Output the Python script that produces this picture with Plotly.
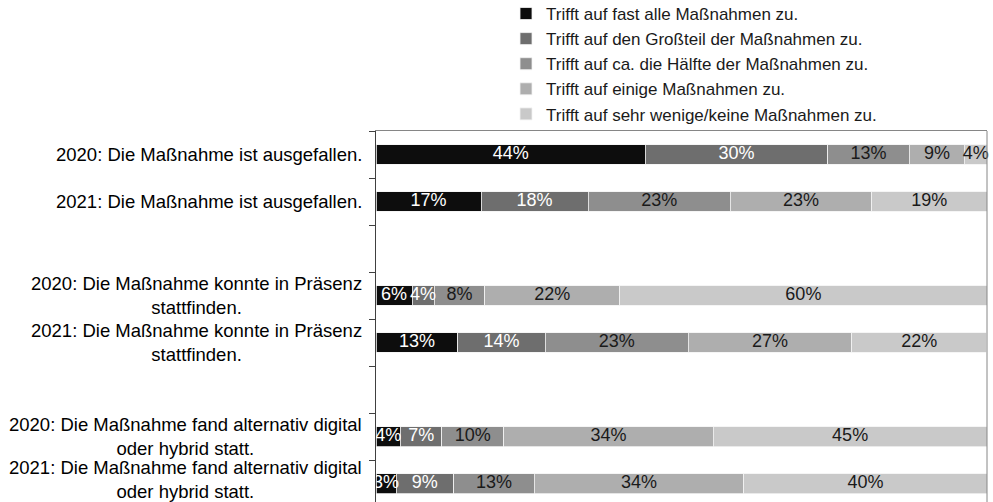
import numpy as np
import plotly.graph_objects as go

categories = [
    "2020: Die Maßnahme ist ausgefallen.",
    "2021: Die Maßnahme ist ausgefallen.",
    " ",
    "2020: Die Maßnahme konnte in Präsenz<br>stattfinden.",
    "2021: Die Maßnahme konnte in Präsenz<br>stattfinden.",
    "  ",
    "2020: Die Maßnahme fand alternativ digital<br>oder hybrid statt.",
    "2021: Die Maßnahme fand alternativ digital<br>oder hybrid statt.",
]
bar_rows = [categories[i] for i in (0, 1, 3, 4, 6, 7)]

series_names = [
    "Trifft auf fast alle Maßnahmen zu.",
    "Trifft auf den Großteil der Maßnahmen zu.",
    "Trifft auf ca. die Hälfte der Maßnahmen zu.",
    "Trifft auf einige Maßnahmen zu.",
    "Trifft auf sehr wenige/keine Maßnahmen zu.",
]
# values per series (percent), one per bar row
s_fast_alle = [44.1, 17.2, 5.9, 13.4, 4.0, 3.3]
s_grossteil = [29.8, 17.5, 3.6, 14.3, 6.8, 9.4]
s_haelfte = [13.4, 23.3, 8.3, 23.4, 10.1, 13.2]
s_einige = [9.0, 23.1, 22.1, 26.8, 34.3, 34.3]
s_wenige = [3.7, 18.9, 60.1, 22.0, 44.8, 39.8]
series_values = [s_fast_alle, s_grossteil, s_haelfte, s_einige, s_wenige]

colors = ["#0d0d0d", "#6e6e6e", "#8e8e8e", "#aeaeae", "#c9c9c9"]
text_colors = ["#ffffff", "#ffffff", "#1a1a1a", "#1a1a1a", "#1a1a1a"]

FONT = "Liberation Sans, Arial, sans-serif"

fig = go.Figure()
for name, vals, col in zip(series_names, series_values, colors):
    fig.add_trace(go.Bar(
        y=bar_rows, x=vals, name=name, orientation="h",
        marker=dict(color=col, line=dict(color="#f2f2f2", width=0.8)),
        hoverinfo="skip",
    ))

# data labels, centred on each segment
start = np.zeros(len(bar_rows))
for vals, tcol in zip(series_values, text_colors):
    v = np.array(vals)
    mids = start + v / 2
    fig.add_trace(go.Scatter(
        x=mids, y=bar_rows, mode="text",
        text=[f"{round(x)}%" for x in v], textposition="middle center",
        textfont=dict(family=FONT, size=18, color=tcol),
        showlegend=False, hoverinfo="skip", cliponaxis=False,
    ))
    start = start + v

for i, cat in enumerate(bar_rows):
    fig.add_annotation(
        x=0, xref="paper", xshift=-12, xanchor="right",
        y=cat, yref="y", yanchor="middle", yshift=4 if i == len(bar_rows) - 1 else 0,
        text=cat, showarrow=False, align="center",
        font=dict(family=FONT, size=18.5, color="#000000"),
    )

fig.add_shape(type="line", xref="paper", yref="paper", x0=1, x1=1, y0=0, y1=1,
              line=dict(color="#868686", width=1))

fig.update_layout(
    width=993, height=502, autosize=False,
    margin=dict(l=376, r=6, t=131, b=0, autoexpand=False),
    paper_bgcolor="white", plot_bgcolor="white",
    barmode="stack", bargap=0.58,
    font=dict(family=FONT, size=18, color="#000000"),
    showlegend=True,
    legend=dict(
        x=0.2128, xanchor="left", y=1.364, yanchor="top",
        traceorder="normal", font=dict(family=FONT, size=17, color="#1a1a1a"),
        bgcolor="rgba(0,0,0,0)", tracegroupgap=0,
    ),
    xaxis=dict(range=[0, 100], side="top", showline=True, linecolor="#868686", linewidth=1,
               showgrid=False, zeroline=False, showticklabels=False, ticks=""),
    yaxis=dict(type="category", categoryorder="array", categoryarray=categories,
               range=[7.39, -0.5], autorange=False,
               showline=True, linecolor="#404040", linewidth=1,
               ticks="outside", tickson="boundaries", ticklen=6, tickcolor="#404040",
               showticklabels=False, showgrid=False, zeroline=False),
)

fig.write_html(
    "out.html",
    config={"displayModeBar": False},
    post_script="document.body.style.margin='0';document.body.style.overflow='hidden';",
)
